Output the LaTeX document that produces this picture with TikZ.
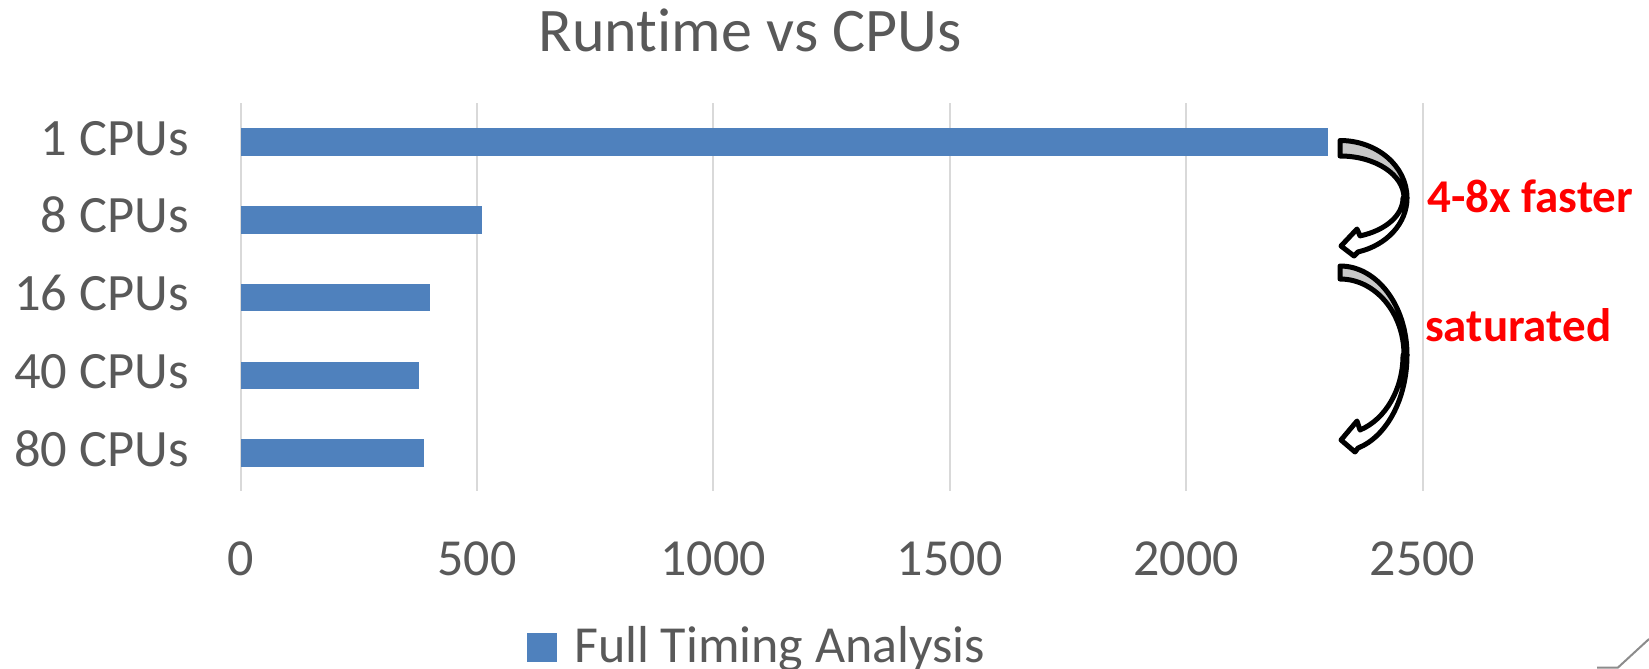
\documentclass[tikz,border=0pt]{standalone}
\usepackage{fontspec}
\setmainfont{Carlito}[Ligatures=NoCommon]
\definecolor{txtgray}{HTML}{595959}
\definecolor{gridgray}{HTML}{D9D9D9}
\definecolor{barblue}{HTML}{4F81BD}
\definecolor{shade}{HTML}{C8C8C8}
\definecolor{notered}{HTML}{FF0000}
\definecolor{cornergray}{HTML}{8C8C8C}
\tikzset{
  grid line/.style={draw=gridgray, line width=2},
  bar/.style={fill=barblue},
  cat label/.style={anchor=base east, inner sep=0, text=txtgray, font=\fontsize{52.5}{60}\selectfont},
  tick label/.style={anchor=base, inner sep=0, text=txtgray, font=\fontsize{52}{60}\selectfont},
  title label/.style={anchor=base, inner sep=0, text=txtgray, font=\fontsize{62}{72}\selectfont},
  note/.style={anchor=base west, inner sep=0, text=notered, font=\bfseries\fontsize{47}{54}\selectfont},
  arrow back/.style={fill=shade, draw=black, line width=5, line join=round},
  arrow front/.style={fill=white, draw=black, line width=5, line join=round},
}
\begin{document}
\begin{tikzpicture}[x=1pt, y=-1pt]
  % canvas (pixel-like units, y grows downward)
  \useasboundingbox (0,0) rectangle (1649,669);
  \fill[white] (0,0) rectangle (1649,669);

  % title (kern keeps "t" and "i" as separate glyphs)
  \node[title label] (title) at (750,52) {Runt\kern0pt ime vs CPUs};

  % vertical gridlines and value-axis labels
  \foreach \v [count=\i from 0] in {0,500,1000,1500,2000,2500} {
    \draw[grid line] ({240.5+0.4728*\v},103) -- ({240.5+0.4728*\v},491);
    \node[tick label] (tick\i) at ({240.5+0.4728*\v},575) {\v};
  }

  % bars and category labels
  \foreach \v/\lab [count=\i from 0] in {2300/1 CPUs, 510/8 CPUs, 400/16 CPUs, 378/40 CPUs, 389/80 CPUs} {
    \pgfmathsetmacro\yc{142+77.75*\i}
    \fill[bar] (241,\yc-13.75) rectangle ({240.5+0.4728*\v},\yc+13.75);
    \node[cat label] (cat\i) at (189,\yc+13) {\lab};
  }

  % legend
  \fill[bar] (527,633) rectangle (557,662);
  \node[anchor=base west, inner sep=0, text=txtgray, font=\fontsize{52}{60}\selectfont] (legend) at (574,662) {Full Timing Analysis};

  % curved arrow: 1 CPU -> 8 CPUs
  \filldraw[arrow back] (1340,140.5)
    arc[start angle=-90, end angle=0, x radius=67, y radius=57.5]
    -- (1404,198)
    arc[start angle=0, end angle=-90, x radius=64, y radius=42] -- cycle;
  \filldraw[arrow front] (1407,198)
    arc[start angle=0, end angle=74.4, x radius=67, y radius=56]
    -- (1354,256) -- (1341,246) -- (1357,229) -- (1360,235.9)
    arc[start angle=71.5, end angle=0, x radius=63, y radius=40] -- cycle;

  % curved arrow: 8 CPUs -> 80 CPUs
  \filldraw[arrow back] (1340,266)
    arc[start angle=-90, end angle=0, x radius=67, y radius=89]
    -- (1404,355)
    arc[start angle=0, end angle=-90, x radius=64, y radius=76] -- cycle;
  \filldraw[arrow front] (1407,355)
    arc[start angle=0, end angle=74.4, x radius=67, y radius=96.6]
    -- (1355,452) -- (1341,440) -- (1357,421) -- (1360,430)
    arc[start angle=71.5, end angle=0, x radius=63, y radius=79] -- cycle;

  % annotations
  \node[note] (faster) at (1427,212) {4-8x faster};
  \node[note] (saturated) at (1425,341.7) {saturated};

  % page corner mark
  \draw[cornergray, line width=2] (1597,667.5) -- (1618,667.5) -- (1649,639);
\end{tikzpicture}
\end{document}
